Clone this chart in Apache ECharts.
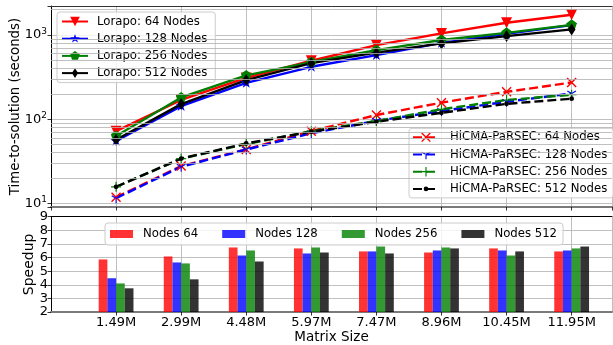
<!DOCTYPE html>
<html>
<head>
<meta charset="utf-8">
<script src="https://cdn.jsdelivr.net/npm/echarts@6/dist/echarts.min.js"></script>
<style>
  html, body { margin: 0; padding: 0; background: #fff; }
  #chart { width: 613px; height: 345px; }
</style>
</head>
<body>
<div id="chart"></div>
<script>
// Matrix sizes on the x axis
const categories = ['1.49M', '2.99M', '4.48M', '5.97M', '7.47M', '8.96M', '10.45M', '11.95M'];

// Time-to-solution (seconds), Lorapo
const lorapo64  = [72, 169, 309, 494, 759, 1045, 1397, 1740];
const lorapo128 = [55, 143, 270, 419, 577, 807, 1030, 1312];
const lorapo256 = [63, 181, 331, 477, 661, 872, 1060, 1320];
const lorapo512 = [57, 151, 291, 463, 617, 794, 970, 1165];

// Time-to-solution (seconds), HiCMA-PaRSEC
const hicma64  = [11.8, 27.7, 43.7, 72, 112, 157, 211, 273];
const hicma128 = [11.5, 27.2, 43.5, 68, 95.5, 125, 161, 202];
const hicma256 = [15.7, 34, 50.6, 72, 95, 131, 169, 195];
const hicma512 = [15.7, 34, 51.5, 71, 93, 119, 152, 175];

// Speedup per node count
const speedup64  = [5.86, 6.08, 6.74, 6.67, 6.45, 6.37, 6.67, 6.45];
const speedup128 = [4.48, 5.64, 6.15, 6.30, 6.45, 6.52, 6.52, 6.52];
const speedup256 = [4.10, 5.57, 6.52, 6.74, 6.81, 6.74, 6.15, 6.67];
const speedup512 = [3.74, 4.40, 5.71, 6.37, 6.30, 6.67, 6.45, 6.81];

// Minor log gridlines
const minorLogLines = [20, 30, 40, 50, 60, 70, 80, 90, 200, 300, 400, 500, 600, 700, 800, 900, 2000];

const FONT = 'DejaVu Sans';
const FS = 11.7;     // legend text
const TICK_FS = 13;  // tick labels
const GRIDC = '#b0b0b0';

// Marker shapes (extra hairline points keep the shape centred in its box)
const STAR = 'path://M10,0 L12.25,6.91 L19.51,6.91 L13.63,11.18 L15.88,18.09 L10,13.82 L4.12,18.09 L6.37,11.18 L0.49,6.91 L7.75,6.91 Z M10,20 L10.01,20 L10,19.99 Z';
const PENT = 'path://M10,0 L19.51,6.91 L15.88,18.09 L4.12,18.09 L0.49,6.91 Z M10,20 L10.01,20 L10,19.99 Z';
const THIN_DIAMOND = 'path://M5,0 L8.2,5 L5,10 L1.8,5 Z M0,5 L0.01,5 L0,5.01 Z M10,5 L9.99,5 L10,5.01 Z';
const XMARK = 'path://M0,1 L1,0 L5,4 L9,0 L10,1 L6,5 L10,9 L9,10 L5,6 L1,10 L0,9 L4,5 Z';
const PLUS = 'path://M4.4,0 H5.6 V4.4 H10 V5.6 H5.6 V10 H4.4 V5.6 H0 V4.4 H4.4 Z';
const TRI = 'path://M4.45,5 L5.55,5 L5.55,10 L4.45,10 Z M5.27,4.52 L0.94,2.02 L0.39,2.98 L4.72,5.48 Z M4.73,4.52 L9.06,2.02 L9.61,2.98 L5.28,5.48 Z M5,0 L5.01,0 L5,0.01 Z';
const DOT = 'path://M5,2.6 A2.4,2.4 0 1,1 5,7.4 A2.4,2.4 0 1,1 5,2.6 Z M0,0 L0.01,0 L0,0.01 Z M10,10 L9.99,10 L10,9.99 Z';

const xy = arr => arr.map((v, i) => [i + 1, v]);

function lineSeries(name, data, color, symbol, size, dashed, rotate) {
  return {
    name: name,
    type: 'line',
    xAxisIndex: 0,
    yAxisIndex: 0,
    data: xy(data),
    symbol: symbol,
    symbolSize: size,
    symbolRotate: rotate || 0,
    symbolKeepAspect: true,
    showSymbol: true,
    z: 3,
    lineStyle: { color: color, width: 2.4, type: dashed ? [9, 4] : 'solid' },
    itemStyle: { color: color, borderWidth: 0 },
    emphasis: { disabled: true }
  };
}

function barSeries(name, data, color) {
  return {
    name: name,
    type: 'bar',
    xAxisIndex: 1,
    yAxisIndex: 1,
    data: xy(data),
    barWidth: 8.7,
    barGap: '0%',
    itemStyle: { color: color, opacity: 0.8 },
    emphasis: { disabled: true }
  };
}

const logLabel = v => {
  const e = Math.round(Math.log10(v));
  if (Math.abs(Math.pow(10, e) - v) > 1e-6 * v) return '';
  return '{b|10}{s|' + e + '}';
};

const catLabel = v => {
  const i = Math.round(v);
  return (Math.abs(v - i) < 1e-6 && i >= 1 && i <= categories.length) ? categories[i - 1] : '';
};

const legendCommon = {
  orient: 'vertical',
  itemWidth: 26,
  itemHeight: 12,
  itemGap: 5.2,
  backgroundColor: 'rgba(255,255,255,0.8)',
  borderColor: '#cccccc',
  borderWidth: 1,
  borderRadius: 3,
  textStyle: { fontFamily: FONT, fontSize: FS, color: '#000', padding: [0, 0, 0, 4] },
  selectedMode: false
};

const option = {
  animation: false,
  backgroundColor: '#fff',
  textStyle: { fontFamily: FONT },
  grid: [
    { left: 51, top: 6, width: 561, height: 201 },
    { left: 51, top: 216.7, width: 561, height: 95.6 }
  ],
  legend: [
    Object.assign({}, legendCommon, {
      left: 57, top: 12, padding: [3.5, 8, 3.5, 4],
      data: ['Lorapo: 64 Nodes', 'Lorapo: 128 Nodes', 'Lorapo: 256 Nodes', 'Lorapo: 512 Nodes']
    }),
    Object.assign({}, legendCommon, {
      left: 409, top: 128.3, padding: [3, 6, 3, 3],
      textStyle: { fontFamily: FONT, fontSize: FS, color: '#000', padding: [0, 0, 0, 6] },
      data: ['HiCMA-PaRSEC: 64 Nodes', 'HiCMA-PaRSEC: 128 Nodes', 'HiCMA-PaRSEC: 256 Nodes', 'HiCMA-PaRSEC: 512 Nodes']
    }),
    {
      orient: 'horizontal',
      left: 105, top: 223,
      padding: [5, 6, 5, 5],
      itemWidth: 23, itemHeight: 8, itemGap: 24,
      icon: 'rect',
      backgroundColor: 'rgba(255,255,255,0.8)',
      borderColor: '#cccccc', borderWidth: 1, borderRadius: 3,
      textStyle: { fontFamily: FONT, fontSize: FS, color: '#000', padding: [0, 0, 0, 5] },
      selectedMode: false,
      data: ['Nodes 64', 'Nodes 128', 'Nodes 256', 'Nodes 512']
    }
  ],
  xAxis: [
    {
      type: 'value', gridIndex: 0, min: 0, max: 8.62, interval: 1,
      axisLine: { show: true, onZero: false, lineStyle: { color: '#7a7a7a', width: 2 } },
      axisTick: { show: true, inside: false, length: 3.5, lineStyle: { color: '#000', width: 0.8 } },
      axisLabel: { show: false },
      splitLine: { show: true, lineStyle: { color: GRIDC, width: 0.8 } }
    },
    {
      type: 'value', gridIndex: 1, min: 0, max: 8.62, interval: 1,
      name: 'Matrix Size', nameLocation: 'middle', nameGap: 18, nameMoveOverlap: false,
      nameTextStyle: { fontFamily: FONT, fontSize: 13.5, color: '#000' },
      axisLine: { show: true, onZero: false, lineStyle: { color: '#7a7a7a', width: 2 } },
      axisTick: { show: true, inside: false, length: 3.5, lineStyle: { color: '#000', width: 0.8 } },
      axisLabel: { show: true, formatter: catLabel, margin: 4, fontFamily: FONT, fontSize: TICK_FS, color: '#000',
                   showMinLabel: false, showMaxLabel: false },
      splitLine: { show: true, lineStyle: { color: GRIDC, width: 0.8 } }
    },
    {
      type: 'value', gridIndex: 0, position: 'top', min: 0, max: 8.62,
      axisLine: { show: true, onZero: false, lineStyle: { color: '#333', width: 1 } },
      axisTick: { show: false }, axisLabel: { show: false }, splitLine: { show: false }
    },
    {
      type: 'value', gridIndex: 1, position: 'top', min: 0, max: 8.62,
      axisLine: { show: true, onZero: false, lineStyle: { color: '#000', width: 1 } },
      axisTick: { show: false }, axisLabel: { show: false }, splitLine: { show: false }
    }
  ],
  yAxis: [
    {
      type: 'log', logBase: 10, gridIndex: 0, min: 9.04, max: 2211,
      name: 'Time-to-solution (seconds)', nameLocation: 'middle', nameGap: 29, nameMoveOverlap: false,
      nameTextStyle: { fontFamily: FONT, fontSize: 13.3, color: '#000' },
      axisLine: { show: true, onZero: false, lineStyle: { color: '#000', width: 1 } },
      axisTick: { show: true, inside: false, length: 3.5, lineStyle: { color: '#000', width: 0.8 } },
      axisLabel: {
        show: true, formatter: logLabel, margin: 4, color: '#000',
        rich: {
          b: { fontFamily: FONT, fontSize: TICK_FS, color: '#000' },
          s: { fontFamily: FONT, fontSize: 9, color: '#000', verticalAlign: 'bottom', padding: [0, 0, 7, 0] }
        }
      },
      splitLine: { show: true, lineStyle: { color: GRIDC, width: 0.8 } }
    },
    {
      type: 'value', gridIndex: 1, min: 2, max: 9, interval: 1,
      name: 'Speedup', nameLocation: 'middle', nameGap: 15, nameMoveOverlap: false,
      nameTextStyle: { fontFamily: FONT, fontSize: 14, color: '#000' },
      axisLine: { show: true, onZero: false, lineStyle: { color: '#000', width: 1 } },
      axisTick: { show: true, inside: false, length: 3.5, lineStyle: { color: '#000', width: 0.8 } },
      axisLabel: { show: true, margin: 3, fontFamily: FONT, fontSize: TICK_FS, color: '#000' },
      splitLine: { show: true, lineStyle: { color: GRIDC, width: 0.8 } }
    }
  ],
  series: [
    {
      name: 'minor-grid', type: 'line', xAxisIndex: 0, yAxisIndex: 0, data: [], z: 1,
      silent: true,
      markLine: {
        silent: true, symbol: ['none', 'none'], label: { show: false },
        lineStyle: { color: GRIDC, width: 0.8, type: 'solid' },
        emphasis: { disabled: true },
        data: minorLogLines.map(v => ({ yAxis: v }))
      }
    },
    lineSeries('Lorapo: 64 Nodes', lorapo64, '#ff0000', 'triangle', 11, false, 180),
    lineSeries('Lorapo: 128 Nodes', lorapo128, '#0000ff', STAR, 12, false),
    lineSeries('Lorapo: 256 Nodes', lorapo256, '#008000', PENT, 11, false),
    lineSeries('Lorapo: 512 Nodes', lorapo512, '#000000', THIN_DIAMOND, 12, false),
    lineSeries('HiCMA-PaRSEC: 64 Nodes', hicma64, '#ff0000', XMARK, 10, true),
    lineSeries('HiCMA-PaRSEC: 128 Nodes', hicma128, '#0000ff', TRI, 10, true),
    lineSeries('HiCMA-PaRSEC: 256 Nodes', hicma256, '#008000', PLUS, 10, true),
    lineSeries('HiCMA-PaRSEC: 512 Nodes', hicma512, '#000000', DOT, 10, true),
    barSeries('Nodes 64', speedup64, '#ff0000'),
    barSeries('Nodes 128', speedup128, '#0000ff'),
    barSeries('Nodes 256', speedup256, '#008000'),
    barSeries('Nodes 512', speedup512, '#000000')
  ]
};

const chart = echarts.init(document.getElementById('chart'), null, { renderer: 'canvas' });
chart.setOption(option);
</script>
</body>
</html>
